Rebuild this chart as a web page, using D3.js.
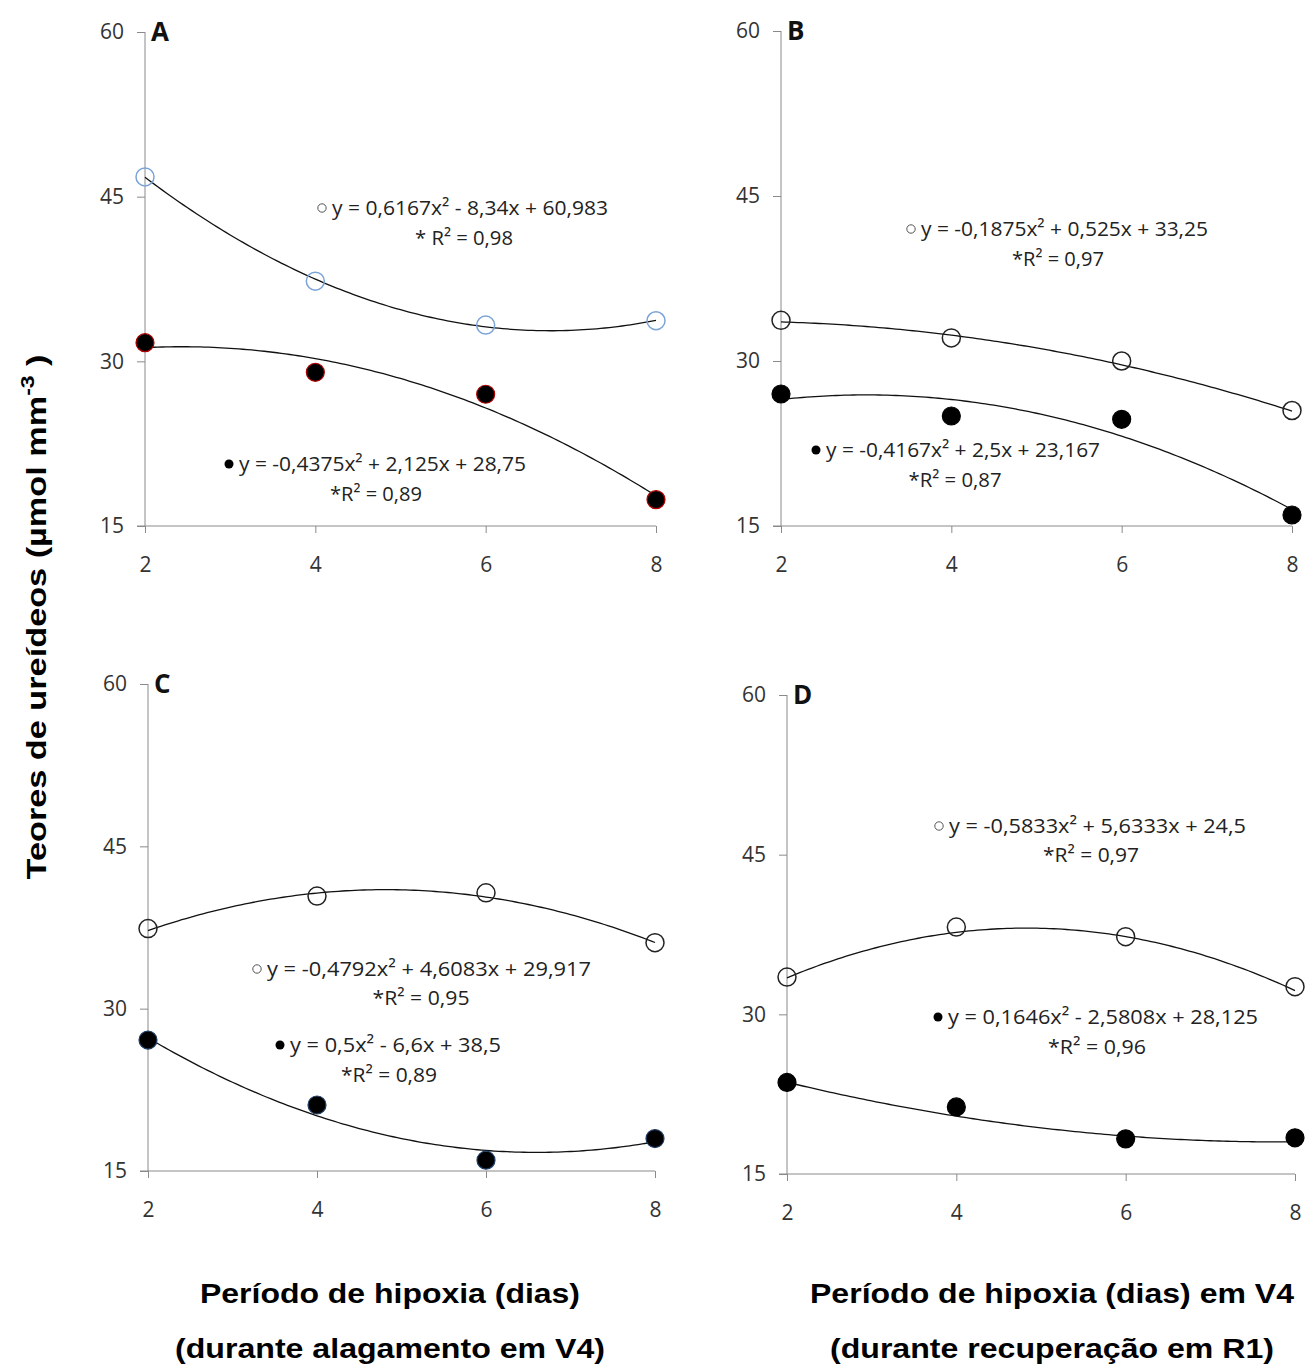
<!DOCTYPE html>
<html><head><meta charset="utf-8">
<script src="https://cdn.jsdelivr.net/npm/d3@7"></script>
<style>
body{margin:0;background:#fff;}
svg text{font-family:"Open Sans","DejaVu Sans",sans-serif;}
</style></head>
<body><svg id="c" width="1306" height="1364"></svg>
<script>
// ---- data ----
const days = [2, 4, 6, 8];
const yTicks = [15, 30, 45, 60];
const panelLabels = ["A", "B", "C", "D"];
const openA = [46.8, 37.3, 33.3, 33.7];
const filledA = [31.7, 29.0, 27.0, 17.4];
const openB = [33.7, 32.1, 30.0, 25.5];
const filledB = [27.0, 25.0, 24.7, 16.0];
const openC = [37.4, 40.4, 40.7, 36.1];
const filledC = [27.1, 21.1, 16.0, 18.0];
const openD = [33.5, 38.2, 37.3, 32.6];
const filledD = [23.6, 21.3, 18.3, 18.4];
// printed regression coefficients [a, b, c] for y = a x^2 + b x + c
const coefOpen = [[0.6167, -8.34, 60.983], [-0.1875, 0.525, 33.25], [-0.4792, 4.6083, 29.917], [-0.5833, 5.6333, 24.5]];
const coefFilled = [[-0.4375, 2.125, 28.75], [-0.4167, 2.5, 23.167], [0.5, -6.6, 38.5], [0.1646, -2.5808, 28.125]];
const eqOpen = ["y = 0,6167x² - 8,34x + 60,983", "y = -0,1875x² + 0,525x + 33,25", "y = -0,4792x² + 4,6083x + 29,917", "y = -0,5833x² + 5,6333x + 24,5"];
const r2Open = ["* R² = 0,98", "*R² = 0,97", "*R² = 0,95", "*R² = 0,97"];
const eqFilled = ["y = -0,4375x² + 2,125x + 28,75", "y = -0,4167x² + 2,5x + 23,167", "y = 0,5x² - 6,6x + 38,5", "y = 0,1646x² - 2,5808x + 28,125"];
const r2Filled = ["*R² = 0,89", "*R² = 0,87", "*R² = 0,89", "*R² = 0,96"];
const openSeries = [openA, openB, openC, openD];
const filledSeries = [filledA, filledB, filledC, filledD];

// ---- layout ----
const panels = [
  {x0:145, x1:656, yTop:32, yBot:526, openStroke:"#7aa3d8", fillStroke:"#b00000",
   eqO:[322,208,276], r2O:[464,238,98], eqF:[229,464,287], r2F:[376,494,92]},
  {x0:781, x1:1292, yTop:31, yBot:526, openStroke:"#222", fillStroke:"#000",
   eqO:[911,229,287], r2O:[1058,259,92], eqF:[816,450,274], r2F:[955,480,93]},
  {x0:148, x1:655, yTop:684, yBot:1171, openStroke:"#222", fillStroke:"#1f3f66",
   eqO:[257,969,324], r2O:[421,998,97], eqF:[280,1045,211], r2F:[389,1075,96]},
  {x0:787, x1:1295, yTop:695, yBot:1174, openStroke:"#222", fillStroke:"#000",
   eqO:[939,826,297], r2O:[1091,855,96], eqF:[938,1017,310], r2F:[1097,1047,98]}
];

const svg = d3.select("#c");
const axisCol = "#8a8a8a", tickTextCol = "#333";

panels.forEach((p, i) => {
  const x = d3.scaleLinear().domain([2, 8]).range([p.x0, p.x1]);
  const y = d3.scaleLinear().domain([15, 60]).range([p.yBot, p.yTop]);
  const g = svg.append("g");

  // y axis
  const ya = g.append("g").attr("transform", `translate(${p.x0},0)`)
    .call(d3.axisLeft(y).tickValues(yTicks).tickSize(8).tickPadding(13).tickFormat(d3.format("d")));
  ya.select(".domain").attr("stroke", axisCol).attr("d", `M0,${p.yTop}V${p.yBot}`);
  ya.selectAll(".tick line").attr("stroke", axisCol);
  ya.selectAll(".tick text").attr("fill", tickTextCol).style("font-size", "21px");

  // x axis
  const xa = g.append("g").attr("transform", `translate(0,${p.yBot})`)
    .call(d3.axisBottom(x).tickValues(days).tickSize(7).tickPadding(24).tickFormat(d3.format("d")));
  xa.select(".domain").attr("stroke", axisCol).attr("d", `M${p.x0 - 8},0H${p.x1}`);
  xa.selectAll(".tick line").attr("stroke", axisCol);
  xa.selectAll(".tick text").attr("fill", tickTextCol).style("font-size", "21px");

  // panel letter
  g.append("text").attr("x", p.x0 + 6).attr("y", p.yTop + 9).text(panelLabels[i])
    .attr("font-weight", "bold").style("font-size", "26px").attr("fill", "#111");

  // trend curves
  const xs = d3.range(2, 8.001, 0.05);
  const line = d3.line().x(d => x(d[0])).y(d => y(d[1])).curve(d3.curveLinear);
  [coefOpen[i], coefFilled[i]].forEach(c => {
    g.append("path").attr("d", line(xs.map(t => [t, c[0]*t*t + c[1]*t + c[2]])))
      .attr("fill", "none").attr("stroke", "#111").attr("stroke-width", 1.3);
  });

  // points
  g.selectAll(".op").data(openSeries[i]).enter().append("circle")
    .attr("cx", (d, k) => x(days[k])).attr("cy", d => y(d)).attr("r", 9)
    .attr("fill", "none").attr("stroke", p.openStroke).attr("stroke-width", 1.5);
  g.selectAll(".fp").data(filledSeries[i]).enter().append("circle")
    .attr("cx", (d, k) => x(days[k])).attr("cy", d => y(d)).attr("r", 9)
    .attr("fill", "#000").attr("stroke", p.fillStroke).attr("stroke-width", 1.2);

  // equations
  const eq = (pos, str, marker) => {
    const t = g.append("text").attr("x", pos[0]).attr("y", pos[1] + 7).attr("fill", "#222")
      .style("font-size", "20px").attr("textLength", pos[2]).attr("lengthAdjust", "spacingAndGlyphs");
    if (marker === "o") {
      g.append("circle").attr("cx", pos[0]).attr("cy", pos[1]).attr("r", 4.2).attr("fill", "none").attr("stroke", "#555").attr("stroke-width", 1);
      t.attr("x", pos[0] + 10);
    } else if (marker === "f") {
      g.append("circle").attr("cx", pos[0]).attr("cy", pos[1]).attr("r", 4.5).attr("fill", "#000");
      t.attr("x", pos[0] + 10);
    } else {
      t.attr("text-anchor", "middle");
    }
    t.text(str);
  };
  eq(p.eqO, eqOpen[i], "o");
  eq(p.r2O, r2Open[i], null);
  eq(p.eqF, eqFilled[i], "f");
  eq(p.r2F, r2Filled[i], null);
});

// axis titles
const titleFont = "'Liberation Sans', Arial, sans-serif";
const yl = svg.append("text").attr("transform", "translate(46,617) rotate(-90)")
  .attr("text-anchor", "middle").attr("font-weight", "bold").style("font-size", "27px")
  .style("font-family", titleFont).attr("fill", "#000")
  .attr("textLength", 525).attr("lengthAdjust", "spacingAndGlyphs");
yl.append("tspan").text("Teores de ureídeos (µmol mm");
yl.append("tspan").text("-3").attr("dy", -12).style("font-size", "18px");
yl.append("tspan").text(" )").attr("dy", 12);

[[390, "Período de hipoxia (dias)", 380, "(durante alagamento em V4)", 430],
 [1052, "Período de hipoxia (dias) em V4", 484, "(durante recuperação em R1)", 444]].forEach(d => {
  svg.append("text").attr("x", d[0]).attr("y", 1303).attr("text-anchor", "middle")
    .attr("font-weight", "bold").style("font-size", "28px").style("font-family", titleFont)
    .attr("textLength", d[2]).attr("lengthAdjust", "spacingAndGlyphs").text(d[1]);
  svg.append("text").attr("x", d[0]).attr("y", 1358).attr("text-anchor", "middle")
    .attr("font-weight", "bold").style("font-size", "28px").style("font-family", titleFont)
    .attr("textLength", d[4]).attr("lengthAdjust", "spacingAndGlyphs").text(d[3]);
});
</script></body></html>
